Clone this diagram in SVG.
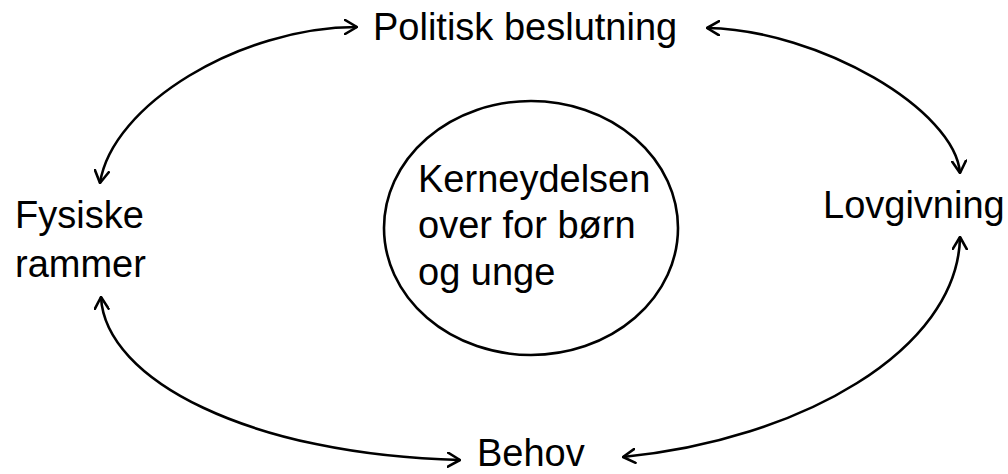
<svg xmlns="http://www.w3.org/2000/svg" width="1008" height="474" viewBox="0 0 1008 474">
<style>
text{font-family:"Liberation Sans",Arial,sans-serif;font-size:38px;fill:#000}
.c{fill:none;stroke:#000;stroke-width:2.6}
</style>
<defs>
<marker id="ah" markerUnits="userSpaceOnUse" viewBox="0 0 14 16" refX="13" refY="8" markerWidth="14" markerHeight="16" orient="auto-start-reverse">
<path d="M1,1 L13,8 L1,15" fill="none" stroke="#000" stroke-width="2.6" stroke-linecap="round" stroke-linejoin="round"/>
</marker>
</defs>
<rect width="1008" height="474" fill="#fff"/>
<g id="connectors">
<path class="c" d="M100,183 C112,105 240,27 357,27" marker-start="url(#ah)" marker-end="url(#ah)"/>
<path class="c" d="M707,28 C820,30 955,110 960,173" marker-start="url(#ah)" marker-end="url(#ah)"/>
<path class="c" d="M101,297 C105,380 250,455 460,460" marker-start="url(#ah)" marker-end="url(#ah)"/>
<path class="c" d="M623,457 C800,440 958,350 960,237" marker-start="url(#ah)" marker-end="url(#ah)"/>
</g>
<g id="politisk"><text x="373" y="40">Politisk beslutning</text></g>
<g id="fysiske"><text x="15" y="228">Fysiske</text><text x="15" y="277">rammer</text></g>
<g id="lovgivning"><text x="823" y="218">Lovgivning</text></g>
<g id="behov"><text x="477" y="466">Behov</text></g>
<g id="kerne">
<ellipse cx="531" cy="228" rx="147" ry="127" fill="none" stroke="#000" stroke-width="2.6"/>
<text x="418" y="192">Kerneydelsen</text>
<text x="418" y="238">over for børn</text>
<text x="418" y="285">og unge</text>
</g>
</svg>
